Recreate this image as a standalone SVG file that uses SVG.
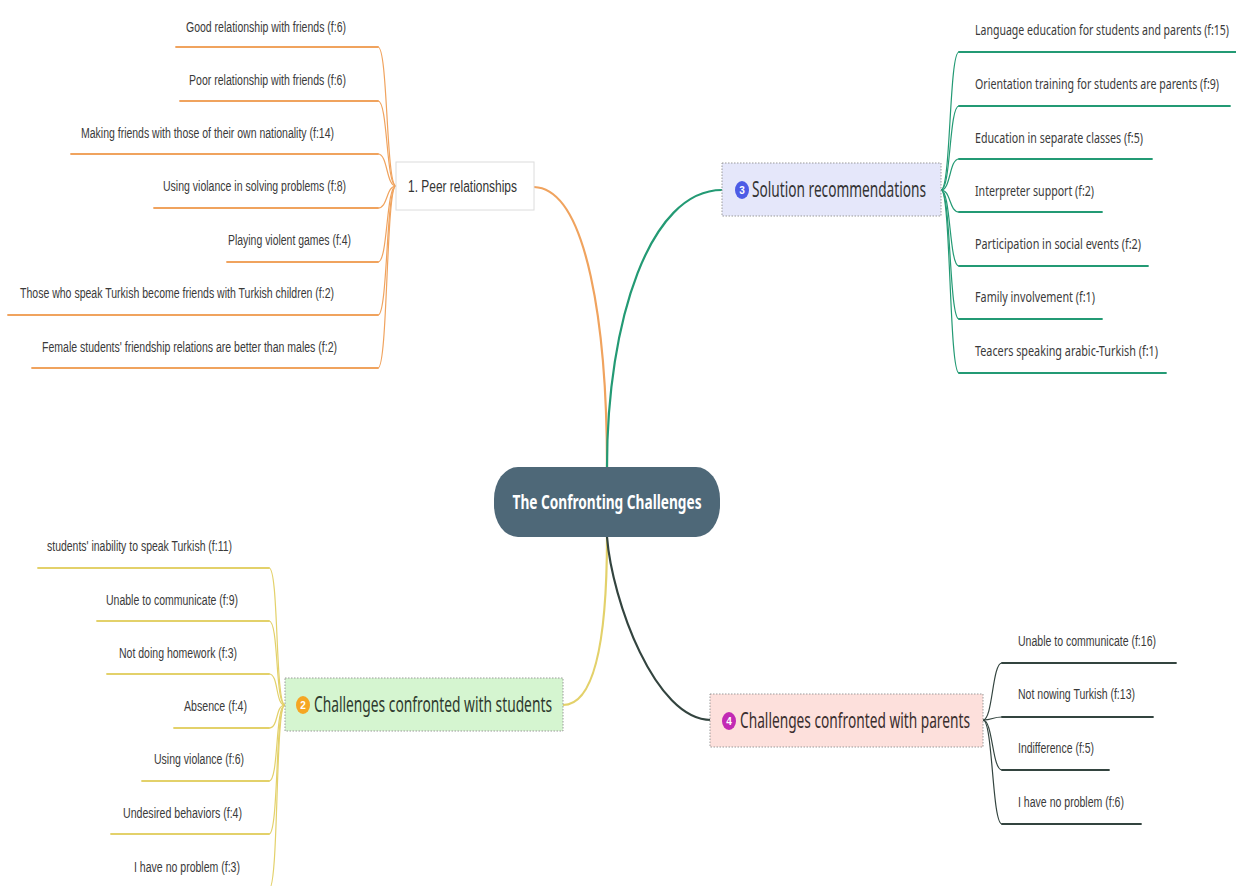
<svg xmlns="http://www.w3.org/2000/svg" width="1236" height="886" viewBox="0 0 1236 886">
<style>
.bg{fill:#ffffff}
.c{fill:none;stroke-linecap:round}
.or{stroke:#f0a35e}
.gr{stroke:#239a74}
.ye{stroke:#e3d16a}
.dk{stroke:#33443f}
.main{stroke-width:2.2}
.sub{stroke-width:1.2}
.ul{stroke-width:1.8}
.t{font-family:"Liberation Sans",Arial,sans-serif;font-size:14px;fill:#3a3a3a}
.ts{font-family:"Noto Sans","Open Sans",sans-serif;font-size:14px;fill:#3a3a3a}
.nt{font-family:"Noto Sans","Open Sans",sans-serif;font-size:21px}
.box{stroke:#9a9a9a;stroke-width:1;stroke-dasharray:1.5 1.5}
.ic{font-family:"Liberation Sans",Arial,sans-serif;font-size:10px;font-weight:bold;fill:#fff;text-anchor:middle}
</style>
<rect class="bg" x="0" y="0" width="1236" height="886"/>
<g id="connectors">
  <path class="c or main" d="M534,187 C588,189 607,330 607,467"/>
  <path class="c gr main" d="M607,467 C607,320 650,190 722,190"/>
  <path class="c ye main" d="M607,537 C607,640 595,705 563,705"/>
  <path class="c dk main" d="M607,537 C612,600 655,720 711,720"/>
  <g class="or">
    <path class="c sub" d="M396,186 C386,186 388,47 378,47"/>
    <path class="c sub" d="M396,186 C386,186 388,101 378,101"/>
    <path class="c sub" d="M396,186 C386,186 388,154 378,154"/>
    <path class="c sub" d="M396,186 C386,186 388,208 378,208"/>
    <path class="c sub" d="M396,186 C386,186 388,262 378,262"/>
    <path class="c sub" d="M396,186 C386,186 388,315 378,315"/>
    <path class="c sub" d="M396,186 C386,186 388,368 378,368"/>
    <path class="c ul" d="M176,47 H378"/>
    <path class="c ul" d="M180,101 H378"/>
    <path class="c ul" d="M71,154 H378"/>
    <path class="c ul" d="M154,208 H378"/>
    <path class="c ul" d="M227,262 H378"/>
    <path class="c ul" d="M8,315 H378"/>
    <path class="c ul" d="M32,368 H378"/>
  </g>
  <g class="gr">
    <path class="c sub" d="M941,190 C951,190 949,52 959,52"/>
    <path class="c sub" d="M941,190 C951,190 949,106 959,106"/>
    <path class="c sub" d="M941,190 C951,190 949,159 959,159"/>
    <path class="c sub" d="M941,190 C951,190 949,212 959,212"/>
    <path class="c sub" d="M941,190 C951,190 949,266 959,266"/>
    <path class="c sub" d="M941,190 C951,190 949,319 959,319"/>
    <path class="c sub" d="M941,190 C951,190 949,373 959,373"/>
    <path class="c ul" d="M959,52 H1240"/>
    <path class="c ul" d="M959,106 H1230"/>
    <path class="c ul" d="M959,159 H1152"/>
    <path class="c ul" d="M959,212 H1102"/>
    <path class="c ul" d="M959,266 H1148"/>
    <path class="c ul" d="M959,319 H1102"/>
    <path class="c ul" d="M959,373 H1166"/>
  </g>
  <g class="ye">
    <path class="c sub" d="M285,705 C275,705 279,568 269,568"/>
    <path class="c sub" d="M285,705 C275,705 279,621 269,621"/>
    <path class="c sub" d="M285,705 C275,705 279,674 269,674"/>
    <path class="c sub" d="M285,705 C275,705 279,728 269,728"/>
    <path class="c sub" d="M285,705 C275,705 279,781 269,781"/>
    <path class="c sub" d="M285,705 C275,705 279,834 269,834"/>
    <path class="c sub" d="M285,705 C275,705 279,889 269,889"/>
    <path class="c ul" d="M38,568 H269"/>
    <path class="c ul" d="M97,621 H269"/>
    <path class="c ul" d="M107,674 H269"/>
    <path class="c ul" d="M174,728 H269"/>
    <path class="c ul" d="M142,781 H269"/>
    <path class="c ul" d="M111,834 H269"/>
  </g>
  <g class="dk">
    <path class="c sub" d="M983,720 C993,720 992,663 1002,663"/>
    <path class="c sub" d="M983,720 C993,720 992,717 1002,717"/>
    <path class="c sub" d="M983,720 C993,720 992,770 1002,770"/>
    <path class="c sub" d="M983,720 C993,720 992,824 1002,824"/>
    <path class="c ul" d="M1002,663 H1176"/>
    <path class="c ul" d="M1002,717 H1153"/>
    <path class="c ul" d="M1002,770 H1109"/>
    <path class="c ul" d="M1002,824 H1141"/>
  </g>
</g>
<g id="central">
  <rect x="494" y="467" width="226" height="70" rx="24" ry="32" fill="#4e6878"/>
  <text x="607" y="509" class="nt" font-weight="bold" fill="#ffffff" text-anchor="middle" textLength="189" lengthAdjust="spacingAndGlyphs" style="font-size:20px">The Confronting Challenges</text>
</g>
<g id="peer">
  <rect x="396" y="162" width="138" height="48" fill="#ffffff" stroke="#dcdcdc" stroke-width="1"/>
  <text x="408" y="192" class="t" textLength="109" lengthAdjust="spacingAndGlyphs" style="font-size:16px;fill:#333">1. Peer relationships</text>
</g>
<g id="peer-children">
  <text x="346" y="32" class="t" text-anchor="end" textLength="160" lengthAdjust="spacingAndGlyphs">Good relationship with friends (f:6)</text>
  <text x="346" y="85" class="t" text-anchor="end" textLength="157" lengthAdjust="spacingAndGlyphs">Poor relationship with friends (f:6)</text>
  <text x="334" y="138" class="t" text-anchor="end" textLength="253" lengthAdjust="spacingAndGlyphs">Making friends with those of their own nationality (f:14)</text>
  <text x="346" y="191" class="t" text-anchor="end" textLength="183" lengthAdjust="spacingAndGlyphs">Using violance in solving problems (f:8)</text>
  <text x="351" y="245" class="t" text-anchor="end" textLength="123" lengthAdjust="spacingAndGlyphs">Playing violent games (f:4)</text>
  <text x="334" y="298" class="t" text-anchor="end" textLength="314" lengthAdjust="spacingAndGlyphs">Those who speak Turkish become friends with Turkish children (f:2)</text>
  <text x="337" y="352" class="t" text-anchor="end" textLength="295" lengthAdjust="spacingAndGlyphs">Female students' friendship relations are better than males (f:2)</text>
</g>
<g id="solution">
  <rect x="722" y="163" width="219" height="53" fill="#e5e7fa" class="box"/>
  <ellipse cx="742" cy="190" rx="7" ry="9" fill="#4d5ce6"/>
  <text x="742" y="194" class="ic">3</text>
  <text x="752" y="197" class="nt" fill="#333" textLength="174" lengthAdjust="spacingAndGlyphs">Solution recommendations</text>
</g>
<g id="solution-children">
  <text x="975" y="35" class="ts" textLength="254" lengthAdjust="spacingAndGlyphs">Language education for students and parents (f:15)</text>
  <text x="975" y="89" class="ts" textLength="244" lengthAdjust="spacingAndGlyphs">Orientation training for students are parents (f:9)</text>
  <text x="975" y="143" class="ts" textLength="168" lengthAdjust="spacingAndGlyphs">Education in separate classes (f:5)</text>
  <text x="975" y="196" class="ts" textLength="119" lengthAdjust="spacingAndGlyphs">Interpreter support (f:2)</text>
  <text x="975" y="249" class="ts" textLength="166" lengthAdjust="spacingAndGlyphs">Participation in social events (f:2)</text>
  <text x="975" y="302" class="ts" textLength="120" lengthAdjust="spacingAndGlyphs">Family involvement (f:1)</text>
  <text x="975" y="356" class="ts" textLength="183" lengthAdjust="spacingAndGlyphs">Teacers speaking arabic-Turkish (f:1)</text>
</g>
<g id="students">
  <rect x="285" y="678" width="278" height="53" fill="#d5f5d0" class="box"/>
  <ellipse cx="303" cy="705" rx="7" ry="9" fill="#f5a623"/>
  <text x="303" y="709" class="ic">2</text>
  <text x="314" y="712" class="nt" fill="#2e3a2e" textLength="238" lengthAdjust="spacingAndGlyphs">Challenges confronted with students</text>
</g>
<g id="students-children">
  <text x="232" y="551" class="t" text-anchor="end" textLength="185" lengthAdjust="spacingAndGlyphs">students' inability to speak Turkish (f:11)</text>
  <text x="238" y="605" class="t" text-anchor="end" textLength="132" lengthAdjust="spacingAndGlyphs">Unable to communicate (f:9)</text>
  <text x="237" y="658" class="t" text-anchor="end" textLength="118" lengthAdjust="spacingAndGlyphs">Not doing homework (f:3)</text>
  <text x="247" y="711" class="t" text-anchor="end" textLength="63" lengthAdjust="spacingAndGlyphs">Absence (f:4)</text>
  <text x="244" y="764" class="t" text-anchor="end" textLength="90" lengthAdjust="spacingAndGlyphs">Using violance (f:6)</text>
  <text x="242" y="818" class="t" text-anchor="end" textLength="119" lengthAdjust="spacingAndGlyphs">Undesired behaviors (f:4)</text>
  <text x="240" y="872" class="t" text-anchor="end" textLength="106" lengthAdjust="spacingAndGlyphs">I have no problem (f:3)</text>
</g>
<g id="parents">
  <rect x="710" y="694" width="273" height="53" fill="#fde0dc" class="box"/>
  <ellipse cx="729" cy="721" rx="7" ry="9" fill="#c22ab4"/>
  <text x="729" y="725" class="ic">4</text>
  <text x="740" y="728" class="nt" fill="#3a2e2e" textLength="230" lengthAdjust="spacingAndGlyphs">Challenges confronted with parents</text>
</g>
<g id="parents-children">
  <text x="1018" y="646" class="t" textLength="138" lengthAdjust="spacingAndGlyphs">Unable to communicate (f:16)</text>
  <text x="1018" y="699" class="t" textLength="117" lengthAdjust="spacingAndGlyphs">Not nowing Turkish (f:13)</text>
  <text x="1018" y="753" class="t" textLength="76" lengthAdjust="spacingAndGlyphs">Indifference (f:5)</text>
  <text x="1018" y="807" class="t" textLength="106" lengthAdjust="spacingAndGlyphs">I have no problem (f:6)</text>
</g>
</svg>
